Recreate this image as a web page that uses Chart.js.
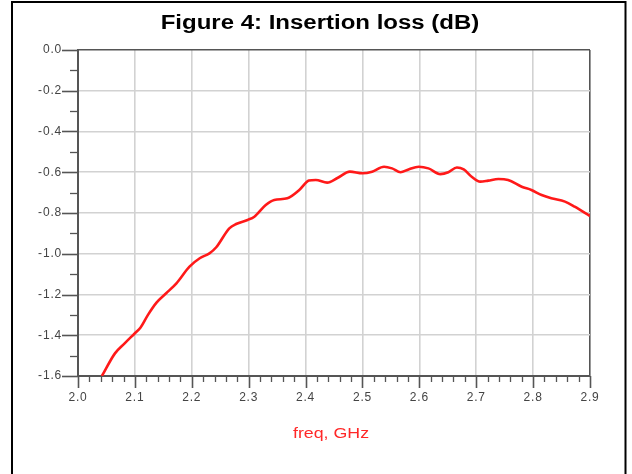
<!DOCTYPE html>
<html>
<head>
<meta charset="utf-8">
<script src="https://cdn.jsdelivr.net/npm/chart.js@4.4.0/dist/chart.umd.min.js"></script>
<style>
  html, body { margin: 0; padding: 0; background: #fff; }
  #wrap { position: relative; width: 632px; height: 474px; }
</style>
</head>
<body>
<div id="wrap"><canvas id="c" width="632" height="474"></canvas></div>
<script>
// ---- data ----
const freqGHz = [2.042, 2.065, 2.082, 2.100, 2.110, 2.123, 2.138, 2.155, 2.173, 2.196,
  2.214, 2.231, 2.243, 2.266, 2.278, 2.298, 2.310, 2.330, 2.345, 2.368,
  2.389, 2.406, 2.418, 2.438, 2.456, 2.478, 2.500, 2.517, 2.538, 2.552,
  2.567, 2.581, 2.599, 2.616, 2.637, 2.651, 2.666, 2.678, 2.692, 2.707,
  2.721, 2.739, 2.756, 2.780, 2.797, 2.815, 2.832, 2.856, 2.873, 2.900];
const insertionLossDb = [-1.600, -1.489, -1.440, -1.390, -1.362, -1.300, -1.240, -1.194, -1.145, -1.063,
  -1.022, -0.998, -0.968, -0.875, -0.854, -0.834, -0.818, -0.761, -0.736, -0.728,
  -0.687, -0.641, -0.638, -0.651, -0.628, -0.597, -0.605, -0.597, -0.573, -0.581,
  -0.600, -0.586, -0.573, -0.581, -0.609, -0.600, -0.577, -0.586, -0.622, -0.646,
  -0.641, -0.633, -0.638, -0.671, -0.687, -0.712, -0.728, -0.744, -0.769, -0.815];
const xRange = [2.0, 2.9];
const yRange = [-1.6, 0.0];
const xMajorStep = 0.1, xMinorStep = 0.02;
const yMajorStep = 0.2, yMinorStep = 0.1;
const titleText = 'Figure 4: Insertion loss (dB)';
const xAxisTitle = 'freq, GHz';

const points = freqGHz.map((f, i) => ({ x: f, y: insertionLossDb[i] }));

const axisColor = '#555555';
const gridColor = '#d2d2d2';
const FONT = '"Liberation Sans", Arial, sans-serif';

// draws stretched text (the reference's lettering is horizontally widened)
function stretchedText(ctx, text, x, y, font, color, sx) {
  ctx.save();
  ctx.font = font;
  ctx.fillStyle = color;
  ctx.textAlign = 'center';
  ctx.textBaseline = 'alphabetic';
  ctx.translate(x, y);
  ctx.scale(sx, 1);
  ctx.fillText(text, 0, 0);
  ctx.restore();
}

const frameAndTicks = {
  id: 'frameAndTicks',
  beforeDraw(chart) {
    const ctx = chart.ctx;
    ctx.save();
    ctx.fillStyle = '#ffffff';
    ctx.fillRect(0, 0, chart.width, chart.height);
    ctx.strokeStyle = '#000000';
    ctx.lineWidth = 2;
    ctx.beginPath();
    ctx.moveTo(12, 480);
    ctx.lineTo(12, 2);
    ctx.lineTo(625.5, 2);
    ctx.lineTo(625.5, 480);
    ctx.stroke();
    ctx.restore();
    try { ctx.letterSpacing = '0.8px'; } catch (e) {}
  },
  afterDraw(chart) {
    const ctx = chart.ctx;
    try { ctx.letterSpacing = '0px'; } catch (e) {}
    const xs = chart.scales.x, ys = chart.scales.y;
    const ca = chart.chartArea;
    ctx.save();
    ctx.strokeStyle = axisColor;
    // x ticks (major + minor)
    const nx = Math.round((xRange[1] - xRange[0]) / xMinorStep);
    const perMajX = Math.round(xMajorStep / xMinorStep);
    for (let i = 0; i <= nx; i++) {
      const v = xRange[0] + i * xMinorStep;
      const px = Math.round(xs.getPixelForValue(v)) + 0.5;
      const major = i % perMajX === 0;
      ctx.lineWidth = major ? 1.6 : 1.3;
      ctx.beginPath();
      ctx.moveTo(px, ca.bottom);
      ctx.lineTo(px, ca.bottom + (major ? 12 : 6));
      ctx.stroke();
    }
    // y ticks (major + minor)
    const ny = Math.round((yRange[1] - yRange[0]) / yMinorStep);
    const perMajY = Math.round(yMajorStep / yMinorStep);
    for (let i = 0; i <= ny; i++) {
      const v = yRange[1] - i * yMinorStep;
      const py = Math.round(ys.getPixelForValue(v)) + 0.5;
      const major = i % perMajY === 0;
      ctx.lineWidth = major ? 1.6 : 1.3;
      ctx.beginPath();
      ctx.moveTo(ca.left, py);
      ctx.lineTo(ca.left - (major ? 16 : 8), py);
      ctx.stroke();
    }
    ctx.restore();
    // chart title and axis title
    stretchedText(ctx, titleText, 320, 29, 'bold 20px ' + FONT, '#000000', 1.2);
    stretchedText(ctx, xAxisTitle, (ca.left + ca.right) / 2 - 3, 438, '14px ' + FONT, 'rgb(255,40,40)', 1.27);
  }
};

new Chart(document.getElementById('c'), {
  type: 'line',
  data: {
    datasets: [{
      data: points,
      borderColor: 'rgb(255,25,25)',
      borderWidth: 2.6,
      pointRadius: 0,
      cubicInterpolationMode: 'monotone',
      fill: false
    }]
  },
  options: {
    responsive: false,
    animation: false,
    devicePixelRatio: 1,
    layout: { padding: { left: 0, right: 42, top: 50, bottom: 0 } },
    plugins: {
      legend: { display: false },
      tooltip: { enabled: false },
      title: { display: false, text: titleText }
    },
    scales: {
      x: {
        type: 'linear',
        min: xRange[0],
        max: xRange[1],
        afterFit(scale) { scale.height = 98; },
        ticks: {
          stepSize: xMajorStep,
          autoSkip: false,
          maxRotation: 0,
          padding: 14,
          color: '#444444',
          font: { family: FONT, size: 12 },
          callback: v => Number(v).toFixed(1)
        },
        grid: {
          drawTicks: false,
          lineWidth: 1.6,
          color: c => (c.tick && Math.abs(c.tick.value - xRange[1]) < 1e-6) ? axisColor : gridColor
        },
        border: { display: true, color: axisColor, width: 2 },
        title: { display: false, text: xAxisTitle }
      },
      y: {
        type: 'linear',
        min: yRange[0],
        max: yRange[1],
        afterFit(scale) { scale.width = 78; },
        ticks: {
          stepSize: yMajorStep,
          padding: 16,
          color: '#444444',
          font: { family: FONT, size: 12 },
          callback: v => (Math.abs(v) < 1e-9 ? 0 : Number(v)).toFixed(1)
        },
        grid: {
          drawTicks: false,
          lineWidth: 1.6,
          color: c => (c.tick && Math.abs(c.tick.value - yRange[1]) < 1e-6) ? axisColor : gridColor
        },
        border: { display: true, color: axisColor, width: 2 }
      }
    }
  },
  plugins: [frameAndTicks]
});
</script>
</body>
</html>
